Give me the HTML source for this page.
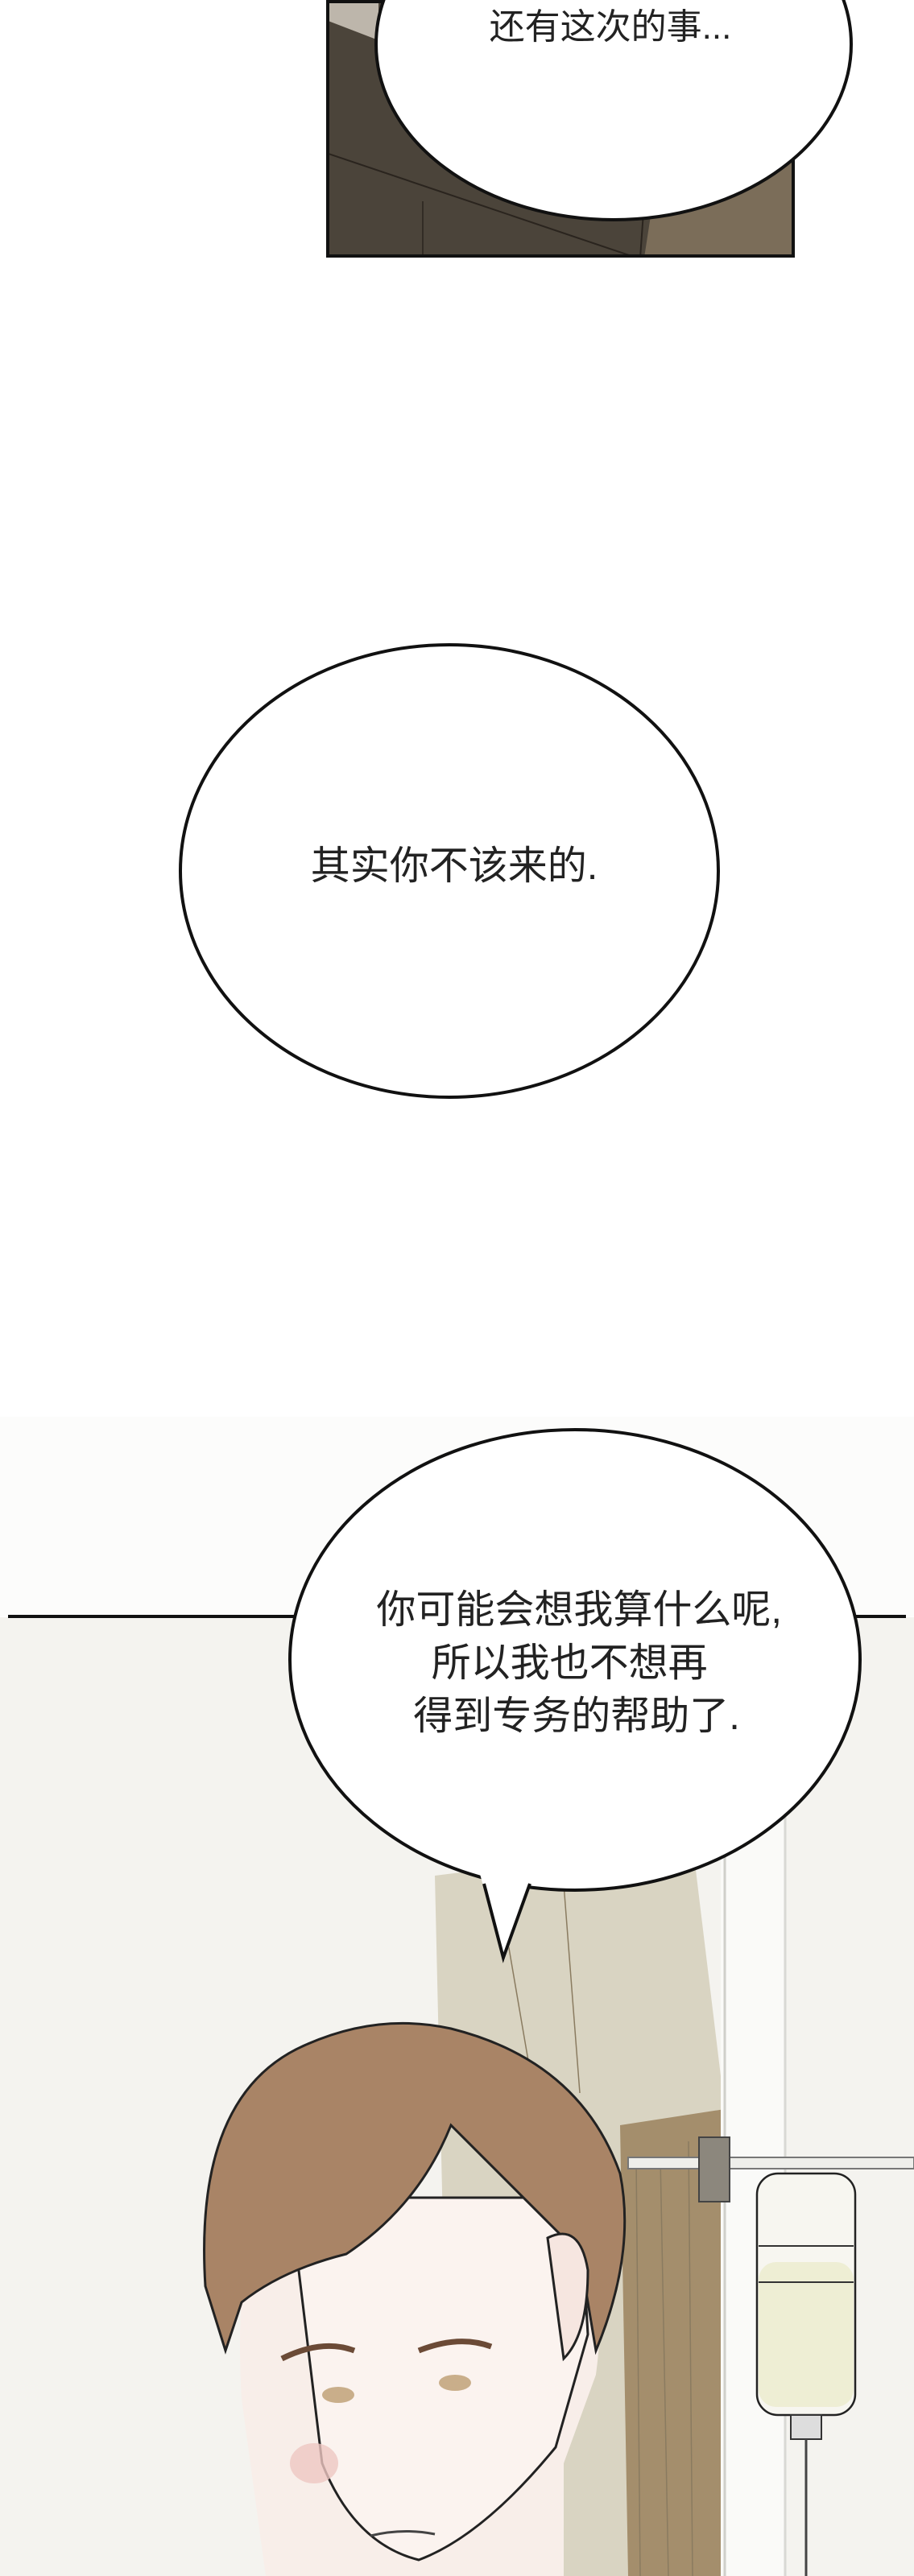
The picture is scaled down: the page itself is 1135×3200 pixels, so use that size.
<!DOCTYPE html>
<html><head><meta charset="utf-8"><style>
html,body{margin:0;padding:0;background:#fff}
body{width:1135px;height:3200px;overflow:hidden;position:relative}
svg{position:absolute;left:0;top:0}
</style></head><body>
<svg width="1135" height="3200" viewBox="0 0 1135 3200" xmlns="http://www.w3.org/2000/svg" font-family="'Liberation Sans','Noto Sans CJK SC',sans-serif">
<defs>
<clipPath id="p1"><rect x="407" y="0" width="578" height="318"/></clipPath>
</defs>
<g clip-path="url(#p1)">
<rect x="405" y="0" width="582" height="320" fill="#4b443a"/>
<polygon points="800,320 985,320 985,180 820,190" fill="#7b6d59"/>
<line x1="405" y1="190" x2="790" y2="320" stroke="#2a241e" stroke-width="2"/>
<line x1="525" y1="250" x2="525" y2="320" stroke="#2a241e" stroke-width="1.5"/>
<line x1="800" y1="250" x2="795" y2="320" stroke="#2a241e" stroke-width="2"/>
<polygon points="405,0 470,0 470,50 405,25" fill="#bdb6ab"/>
</g>
<rect x="407" y="2" width="578" height="316" fill="none" stroke="#111" stroke-width="4"/>
<ellipse cx="762" cy="55" rx="295" ry="218" fill="#fff" stroke="#111" stroke-width="4"/>
<text x="758" y="48" font-size="44" text-anchor="middle" fill="#222">还有这次的事...</text>

<ellipse cx="558" cy="1082" rx="334" ry="281" fill="#fff" stroke="#111" stroke-width="4"/>
<text x="564" y="1092" font-size="49" text-anchor="middle" fill="#222">其实你不该来的.</text>

<rect x="0" y="2009" width="1135" height="1191" fill="#f4f3ef"/>
<rect x="0" y="1760" width="1135" height="248" fill="#fcfcfb"/>
<polygon points="540,2330 860,2290 900,2620 900,3200 560,3200" fill="#d9d4c2"/>
<polygon points="770,2640 900,2620 900,3200 780,3200" fill="#a48e6c"/>
<g stroke="#8a7b60" stroke-width="1.5">
<line x1="620" y1="2350" x2="680" y2="2700"/><line x1="700" y1="2340" x2="720" y2="2600"/>
<line x1="790" y1="2680" x2="795" y2="3200"/><line x1="820" y1="2680" x2="830" y2="3200"/><line x1="855" y1="2660" x2="860" y2="3200"/>
</g>
<rect x="895" y="2250" width="80" height="950" fill="#fafaf8"/>
<line x1="900" y1="2250" x2="900" y2="3200" stroke="#cfcfca" stroke-width="3"/>
<line x1="975" y1="2250" x2="975" y2="3200" stroke="#d8d8d4" stroke-width="3"/>
<rect x="780" y="2680" width="355" height="14" fill="#eeeeea" stroke="#777" stroke-width="2"/>
<rect x="868" y="2655" width="38" height="80" fill="#8c877d" stroke="#444" stroke-width="2"/>
<rect x="940" y="2700" width="122" height="300" rx="26" fill="#f7f6f0" stroke="#222" stroke-width="2.5"/>
<rect x="942" y="2810" width="118" height="180" rx="22" fill="#eeeed4"/>
<line x1="942" y1="2790" x2="1060" y2="2790" stroke="#333" stroke-width="2"/>
<line x1="942" y1="2835" x2="1060" y2="2835" stroke="#333" stroke-width="2"/>
<rect x="982" y="3000" width="38" height="30" fill="#ddd" stroke="#333" stroke-width="2"/>
<line x1="1001" y1="3030" x2="1001" y2="3200" stroke="#444" stroke-width="3"/>
<path d="M330,3200 L300,2980 Q290,2800 330,2740 L700,2740 Q760,2800 740,2950 L700,3060 L700,3200 Z" fill="#f8eee9"/>
<path d="M360,2730 L400,3060 Q440,3160 520,3180 Q600,3150 690,3040 L730,2900 L720,2730 Z" fill="#fbf3ef" stroke="#222" stroke-width="3"/>
<path d="M255,2840 Q240,2600 380,2540 Q470,2500 560,2520 Q720,2560 770,2700 Q790,2800 740,2920 L720,2800 Q640,2720 560,2640 Q520,2740 430,2800 Q350,2820 300,2860 L280,2920 Z" fill="#a98466" stroke="#222" stroke-width="3"/>
<path d="M680,2780 Q720,2760 730,2820 Q730,2900 700,2930 Z" fill="#f6e6e0" stroke="#222" stroke-width="3"/>
<ellipse cx="420" cy="2975" rx="20" ry="10" fill="#c9ae8a"/>
<ellipse cx="565" cy="2960" rx="20" ry="10" fill="#c9ae8a"/>
<path d="M350,2930 Q400,2905 440,2920" stroke="#6b4a36" stroke-width="7" fill="none"/>
<path d="M520,2920 Q570,2900 610,2915" stroke="#6b4a36" stroke-width="7" fill="none"/>
<ellipse cx="390" cy="3060" rx="30" ry="25" fill="#eec7c2" opacity="0.8"/>
<path d="M460,3150 Q500,3140 540,3148" stroke="#444" stroke-width="3" fill="none"/>

<line x1="10" y1="2008" x2="1125" y2="2008" stroke="#111" stroke-width="4"/>
<ellipse cx="714" cy="2062" rx="354" ry="286" fill="#fff" stroke="#111" stroke-width="4"/>
<polygon points="596,2328 664,2328 626,2436" fill="#fff"/>
<polyline points="601,2340 625,2432 658,2340" fill="none" stroke="#111" stroke-width="4" stroke-linejoin="miter"/>
<text font-size="49" text-anchor="middle" fill="#222">
<tspan x="726" y="2016">你可能会想我算什么呢,</tspan>
<tspan x="714" y="2082">所以我也不想再</tspan>
<tspan x="716" y="2148">得到专务的帮助了.</tspan>
</text>
</svg>
</body></html>
